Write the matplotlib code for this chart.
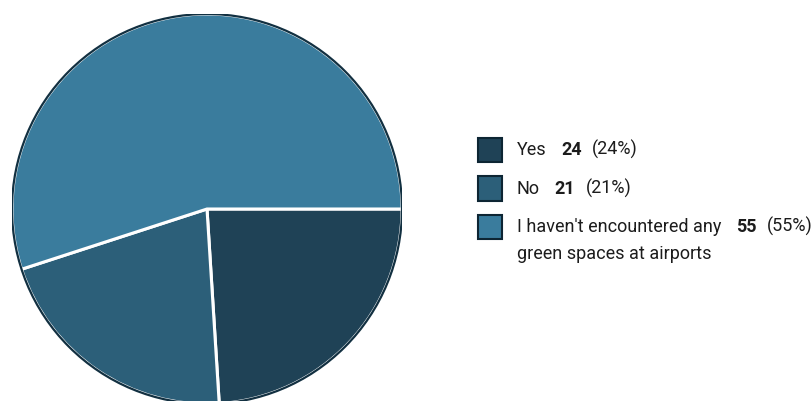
import matplotlib.pyplot as plt
from matplotlib.patches import Circle, Rectangle

plt.rcParams['font.family'] = ['Roboto', 'DejaVu Sans']

labels = ['Yes', 'No', "I haven't encountered any\ngreen spaces at airports"]
counts = [24, 21, 55]
colors = ['#1f4256', '#2c5f79', '#3a7c9d']

total = sum(counts)
pcts = [round(100 * c / total) for c in counts]

fig = plt.figure(figsize=(8.11, 4.01), dpi=100)
W, H = 811, 401

# pie: centre (207, 209) px, radius 195 px
ax = fig.add_axes([12 / W, (H - 209 - 195) / H, 390 / W, 390 / H])
ax.pie(counts, colors=colors, startangle=0, counterclock=False, radius=1,
       wedgeprops=dict(edgecolor='white', linewidth=2.2))
ax.add_patch(Circle((0, 0), 1.0, fill=False, edgecolor='#123041', linewidth=1.6, zorder=5))
ax.set_xlim(-1, 1)
ax.set_ylim(-1, 1)
ax.axis('off')

# legend drawn by hand (pixel positions from the top-left)
sq = 24
x_sq = 478
x_txt = 517
y0 = 150
row_h = 38.5
fs = 13
txt_color = '#1c1c1c'
line_h = 27

y = y0
for lab, c, p, col in zip(labels, counts, pcts, colors):
    fig.patches.append(Rectangle((x_sq / W, (H - y - sq / 2) / H), sq / W, sq / H,
                                 transform=fig.transFigure, facecolor=col,
                                 edgecolor='#0d2533', linewidth=1.5))
    lines = lab.split('\n')
    t = fig.text(x_txt / W, (H - y) / H, lines[0], fontsize=fs, color=txt_color, va='center')
    n = plt.annotate(str(c), xy=(1, 0), xycoords=t, xytext=(10.5, 0), textcoords='offset points',
                     fontsize=fs, fontweight='bold', color=txt_color, va='bottom')
    plt.annotate(f'({p}%)', xy=(1, 0), xycoords=n, xytext=(7.5, 0), textcoords='offset points',
                 fontsize=fs, color=txt_color, va='bottom')
    for k, extra in enumerate(lines[1:], start=1):
        fig.text(x_txt / W, (H - y - k * line_h) / H, extra, fontsize=fs, color=txt_color, va='center')
    y += row_h

fig.savefig('out.png', dpi=100)
